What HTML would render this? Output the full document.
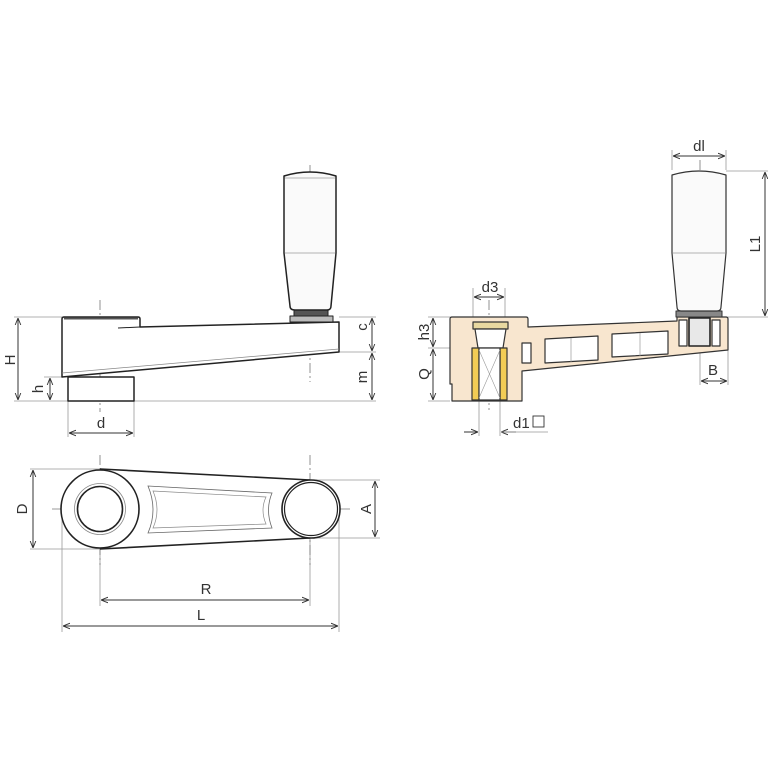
<!DOCTYPE html>
<html><head><meta charset="utf-8"><style>
html,body{margin:0;padding:0;background:#fff}
svg{display:block}
text{font-family:"Liberation Sans",sans-serif;font-size:15px;fill:#333}
</style></head><body>
<svg width="768" height="768" viewBox="0 0 768 768" xmlns="http://www.w3.org/2000/svg">
<defs>
<marker id="a" viewBox="0 0 10 10" refX="10" refY="5" markerWidth="7" markerHeight="7" orient="auto-start-reverse"><path d="M0,1 L10,5 L0,9" fill="none" stroke="#333" stroke-width="1.3"/></marker>
</defs>
<g stroke="#999" stroke-width="0.8" fill="none">
<!-- left view extension lines -->
<line x1="14" y1="317" x2="62" y2="317"/>
<line x1="14" y1="401" x2="376" y2="401"/>
<line x1="44" y1="377" x2="62" y2="377"/>
<line x1="339" y1="317" x2="376" y2="317"/>
<line x1="339" y1="352" x2="376" y2="352"/>
<line x1="68" y1="401" x2="68" y2="437"/>
<line x1="134" y1="401" x2="134" y2="437"/>
<!-- right view -->
<line x1="672" y1="150" x2="672" y2="170"/>
<line x1="726" y1="150" x2="726" y2="170"/>
<line x1="726" y1="171" x2="768" y2="171"/>
<line x1="728" y1="317" x2="768" y2="317"/>
<line x1="428" y1="317" x2="450" y2="317"/>
<line x1="428" y1="348" x2="472" y2="348"/>
<line x1="428" y1="401" x2="450" y2="401"/>
<line x1="473" y1="288" x2="473" y2="318"/>
<line x1="505" y1="288" x2="505" y2="318"/>
<line x1="479" y1="400" x2="479" y2="436"/>
<line x1="500" y1="400" x2="500" y2="436"/>
<line x1="700" y1="350" x2="700" y2="385"/>
<line x1="728" y1="350" x2="728" y2="385"/>
<!-- plan view -->
<line x1="30" y1="469" x2="100" y2="469"/>
<line x1="30" y1="549" x2="100" y2="549"/>
<line x1="310" y1="480" x2="380" y2="480"/>
<line x1="310" y1="538" x2="380" y2="538"/>
<line x1="62" y1="510" x2="62" y2="632"/>
<line x1="339" y1="510" x2="339" y2="632"/>
<line x1="100" y1="549" x2="100" y2="606"/>
<line x1="310" y1="538" x2="310" y2="606"/>
</g>
<!-- centerlines -->
<g stroke="#777" stroke-width="0.8" fill="none" stroke-dasharray="10,3,2,3">
<line x1="100" y1="300" x2="100" y2="412"/>
<line x1="310" y1="165" x2="310" y2="382"/>
<line x1="489" y1="300" x2="489" y2="410"/>
<line x1="700" y1="160" x2="700" y2="350"/>
<line x1="52" y1="509" x2="350" y2="509"/>
<line x1="100" y1="455" x2="100" y2="565"/>
<line x1="310" y1="455" x2="310" y2="565"/>
</g>
<!-- LEFT SIDE VIEW -->
<g stroke="#222" stroke-width="1.5" fill="#fff" stroke-linejoin="round">
<rect x="68" y="377" width="66" height="24"/>
<path d="M62,319 Q62,317 64,317 L138,317 Q140,317 140,319 L140,327 L339,322 L339,352 L62,377 Z"/>
<line x1="118" y1="328" x2="140" y2="327" stroke-width="1"/>
<line x1="62" y1="373" x2="339" y2="349" stroke="#888" stroke-width="0.7"/>
<line x1="64" y1="318.5" x2="138" y2="318.5" stroke="#555" stroke-width="2"/>
<rect x="290" y="316" width="43" height="6" fill="#bbb" stroke-width="1"/>
<rect x="294" y="310" width="34" height="6" fill="#555" stroke-width="1"/>
<path d="M284,176 Q310,168 336,176 L336,253 L331,306 Q331,310 327,310 L295,310 Q290,310 290,306 L284,253 Z" fill="#fafafa"/>
<line x1="285" y1="253" x2="335" y2="253" stroke="#999" stroke-width="0.7"/>
<line x1="285" y1="178" x2="335" y2="178" stroke="#999" stroke-width="0.7"/>
</g>
<!-- RIGHT SECTION VIEW -->
<g stroke="#333" stroke-width="1.2" stroke-linejoin="round">
<path d="M452,317 L526,317 Q528,317 528,319 L528,327 L677,321 L677,317 L726,317 Q728,317 728,319 L728,350 L522,371 L522,401 L452,401 L452,384 L450,384 L450,319 Q450,317 452,317 Z" fill="#f8e6cf"/>
<!-- pockets -->
<path d="M545,339 L598,336 L598,360 L545,363 Z" fill="#fff"/>
<path d="M612,334 L668,331 L668,354 L612,357 Z" fill="#fff"/>
<rect x="522" y="343" width="9" height="20" fill="#fff"/>
<line x1="571" y1="338" x2="571" y2="362" stroke="#999" stroke-width="0.7"/>
<line x1="640" y1="333" x2="640" y2="356" stroke="#999" stroke-width="0.7"/>
<!-- handle boss pockets -->
<rect x="679" y="320" width="8" height="26" fill="#fff"/>
<rect x="712" y="320" width="8" height="26" fill="#fff"/>
<rect x="689" y="318" width="21" height="28" fill="#e8e8e8" stroke="#222" stroke-width="1.6"/>
<!-- bore -->
<rect x="473" y="322" width="35" height="7" fill="#e8d8a0"/>
<path d="M475,329 L506,329 L503,348 L478,348 Z" fill="#fff"/>
<rect x="472" y="348" width="7" height="52" fill="#f2cc55"/>
<rect x="500" y="348" width="7" height="52" fill="#f2cc55"/>
<rect x="479" y="348" width="21" height="52" fill="#fff"/>
<path d="M479,350 L500,398 M500,350 L479,398" stroke="#999" stroke-width="0.6"/>
<!-- handle -->
<rect x="676" y="311" width="46" height="6" fill="#888" stroke-width="1"/>
<path d="M672,175 Q699,167 726,175 L726,253 L721,307 Q721,311 717,311 L681,311 Q677,311 677,307 L672,253 Z" fill="#fafafa"/>
<line x1="673" y1="253" x2="725" y2="253" stroke="#999" stroke-width="0.7"/>
</g>
<!-- PLAN VIEW -->
<g stroke="#222" stroke-width="1.6" fill="#fff">
<path d="M100,469 L310,480 L310,538 L100,549 Z" stroke="none"/>
<line x1="100" y1="469" x2="310" y2="480"/>
<line x1="100" y1="549" x2="310" y2="538"/>
<circle cx="100" cy="509" r="39"/>
<circle cx="100" cy="509" r="25.5" stroke="#888" stroke-width="0.8"/>
<circle cx="100" cy="509" r="22.5"/>
<circle cx="311" cy="509" r="29"/>
<circle cx="311" cy="509" r="26.5" stroke-width="1.2"/>
<path d="M148,486 L272,493 Q265,510 272,528 L148,533 Q158,510 148,486 Z" stroke="#666" stroke-width="0.8" fill="none"/>
<path d="M153,491 L266,497 Q260,510 266,524 L153,528 Q161,510 153,491 Z" stroke="#888" stroke-width="0.7" fill="none"/>
</g>
<!-- dimension arrows -->
<g stroke="#333" stroke-width="1" fill="none" marker-start="url(#a)" marker-end="url(#a)">
<line x1="18" y1="318" x2="18" y2="400"/>
<line x1="50" y1="378" x2="50" y2="400"/>
<line x1="372" y1="318" x2="372" y2="351"/>
<line x1="372" y1="353" x2="372" y2="400"/>
<line x1="69" y1="433" x2="133" y2="433"/>
<line x1="673" y1="156" x2="725" y2="156"/>
<line x1="765" y1="172" x2="765" y2="316"/>
<line x1="433" y1="318" x2="433" y2="347"/>
<line x1="433" y1="349" x2="433" y2="400"/>
<line x1="474" y1="297" x2="504" y2="297"/>
<line x1="701" y1="381" x2="727" y2="381"/>
<line x1="33" y1="470" x2="33" y2="548"/>
<line x1="375" y1="481" x2="375" y2="537"/>
<line x1="101" y1="600" x2="309" y2="600"/>
<line x1="63" y1="626" x2="338" y2="626"/>
</g>
<g stroke="#333" stroke-width="1" fill="none" marker-end="url(#a)">
<line x1="464" y1="432" x2="478" y2="432"/>
<line x1="516" y1="432" x2="501" y2="432"/>
</g>
<line x1="501" y1="432" x2="548" y2="432" stroke="#999" stroke-width="0.8"/>
<!-- labels -->
<text x="15" y="360" transform="rotate(-90 15 360)" text-anchor="middle">H</text>
<text x="43" y="389" transform="rotate(-90 43 389)" text-anchor="middle">h</text>
<text x="367" y="327" transform="rotate(-90 367 327)" text-anchor="middle">c</text>
<text x="367" y="377" transform="rotate(-90 367 377)" text-anchor="middle">m</text>
<text x="101" y="428" text-anchor="middle">d</text>
<text x="699" y="151" text-anchor="middle">dl</text>
<text x="760" y="244" transform="rotate(-90 760 244)" text-anchor="middle">L1</text>
<text x="490" y="292" text-anchor="middle">d3</text>
<text x="429" y="332" transform="rotate(-90 429 332)" text-anchor="middle">h3</text>
<text x="429" y="374" transform="rotate(-90 429 374)" text-anchor="middle">Q</text>
<text x="513" y="428">d1</text>
<rect x="533" y="416" width="11" height="11" fill="none" stroke="#333" stroke-width="0.9"/>
<text x="713" y="375" text-anchor="middle">B</text>
<text x="27" y="509" transform="rotate(-90 27 509)" text-anchor="middle">D</text>
<text x="371" y="509" transform="rotate(-90 371 509)" text-anchor="middle">A</text>
<text x="206" y="594" text-anchor="middle">R</text>
<text x="201" y="620" text-anchor="middle">L</text>
</svg>
</body></html>
